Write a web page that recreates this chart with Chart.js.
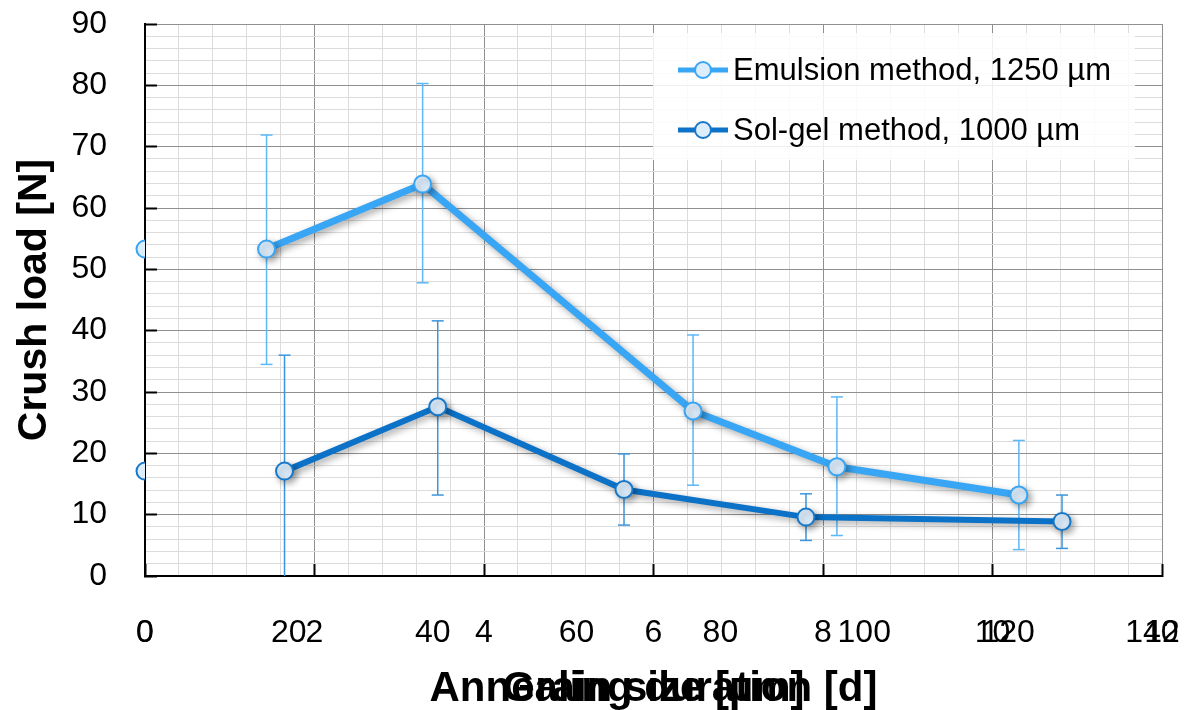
<!DOCTYPE html>
<html>
<head>
<meta charset="utf-8">
<script src="https://cdn.jsdelivr.net/npm/chart.js@4.4.1/dist/chart.umd.min.js"></script>
<style>
  html, body { margin: 0; padding: 0; background: #fff; }
  #wrap { position: relative; width: 1185px; height: 710px; }
  #legend {
    position: absolute; left: 653px; top: 33px; width: 482px; height: 127px;
    background: rgba(255, 255, 255, 0.86);
    font-family: "Liberation Sans", Arial, sans-serif; font-size: 31px; color: #000;
  }
  .item { position: absolute; left: 25px; height: 40px; display: flex; align-items: center; white-space: nowrap; }
  .item svg { margin-right: 5px; }
</style>
</head>
<body>
<div id="wrap">
  <canvas id="chart" width="1185" height="710"></canvas>
  <div id="legend"></div>
</div>
<script>
const grainTicks = [0, 2, 4, 6, 8, 10, 12];
const dayTicks = [0, 20, 40, 60, 80, 100, 120, 140];
const loadTicks = [0, 10, 20, 30, 40, 50, 60, 70, 80, 90];
const seriesNames = ['Emulsion method, 1250 µm', 'Sol-gel method, 1000 µm'];

const emulsionDays = [16.9, 38.6, 76.2, 96.2, 121.5];
const emulsionLoad = [53.3, 63.9, 26.9, 17.8, 13.2];
const emulsionHigh = [71.9, 80.3, 39.3, 29.2, 22.1];
const emulsionLow = [34.5, 47.8, 14.8, 6.6, 4.3];

const solgelDays = [19.4, 40.7, 66.6, 91.9, 127.5];
const solgelLoad = [17.1, 27.6, 14.1, 9.6, 8.9];
const solgelHigh = [36.0, 41.6, 19.9, 13.4, 13.2];
const solgelLow = [-1.8, 13.2, 8.3, 5.8, 4.5];

// the two stray markers that sit half outside the y axis
const strayDays = [0, 0];
const strayLoad = [53.3, 17.1];

const lightBlue = '#38a6f4';
const darkBlue = '#0b72c8';
const markerFill = '#dcedfc';

const points = (xs, ys) => xs.map((x, i) => ({ x, y: ys[i] }));
const whiskers = (xs, lo, hi) => xs.flatMap((x, i) => [{ x, y: lo[i] }, { x, y: hi[i] }, { x, y: null }]);
const near = (v, list) => list.some(t => Math.abs(t - v) < 1e-6);

const tickFont = { family: 'Liberation Sans', size: 32 };
const titleFont = { family: 'Liberation Sans', size: 42, weight: 'bold', lineHeight: 1 };

// tick padding would otherwise leak into the layout padding
const fixBox = (s, w, h) => {
  if (w) s.width = w;
  if (h) s.height = h;
  s.paddingTop = 0; s.paddingBottom = 0; s.paddingLeft = 0; s.paddingRight = 0;
};

const shadowPlugin = {
  id: 'lineShadow',
  beforeDatasetDraw(chart, args) {
    if (!chart.data.datasets[args.index].shadow) return;
    const ctx = chart.ctx;
    ctx.save();
    ctx.shadowColor = 'rgba(0,0,0,0.35)';
    ctx.shadowBlur = 7;
    ctx.shadowOffsetX = 3;
    ctx.shadowOffsetY = 3;
  },
  afterDatasetDraw(chart, args) {
    if (chart.data.datasets[args.index].shadow) chart.ctx.restore();
  }
};

new Chart(document.getElementById('chart'), {
  type: 'scatter',
  data: {
    datasets: [
      {
        label: seriesNames[0],
        data: points(emulsionDays, emulsionLoad),
        xAxisID: 'x2',
        showLine: true,
        shadow: true,
        order: 1,
        borderColor: lightBlue,
        borderWidth: 7,
        pointRadius: 8.5,
        pointBorderWidth: 2,
        pointBackgroundColor: markerFill,
        pointBorderColor: lightBlue
      },
      {
        label: seriesNames[1],
        data: points(solgelDays, solgelLoad),
        xAxisID: 'x2',
        showLine: true,
        shadow: true,
        order: 1,
        borderColor: darkBlue,
        borderWidth: 6,
        pointRadius: 8.5,
        pointBorderWidth: 2,
        pointBackgroundColor: markerFill,
        pointBorderColor: '#1878c8'
      },
      {
        data: whiskers(emulsionDays, emulsionLow, emulsionHigh),
        xAxisID: 'x2',
        showLine: true,
        spanGaps: false,
        order: 3,
        clip: 0,
        borderColor: '#5db8f6',
        borderWidth: 1.5,
        pointStyle: 'line',
        pointRadius: 6,
        pointBorderWidth: 1.5,
        pointBorderColor: '#5db8f6'
      },
      {
        data: whiskers(solgelDays, solgelLow, solgelHigh),
        xAxisID: 'x2',
        showLine: true,
        spanGaps: false,
        order: 3,
        clip: 0,
        borderColor: '#3c95dc',
        borderWidth: 1.5,
        pointStyle: 'line',
        pointRadius: 6,
        pointBorderWidth: 1.5,
        pointBorderColor: '#3c95dc'
      },
      {
        data: points(strayDays, strayLoad),
        xAxisID: 'x2',
        showLine: false,
        order: 2,
        clip: { left: 20, top: 0, right: -1017, bottom: 0 },
        pointRadius: 8.5,
        pointBorderWidth: 2,
        pointBackgroundColor: markerFill,
        pointBorderColor: [lightBlue, '#1878c8']
      }
    ]
  },
  options: {
    responsive: false,
    animation: false,
    devicePixelRatio: 1,
    layout: { padding: { left: 0, right: 23, top: 24, bottom: 0 } },
    plugins: { legend: { display: false }, tooltip: { enabled: false } },
    scales: {
      x: {
        type: 'linear',
        position: 'bottom',
        min: 0,
        max: 12,
        ticks: {
          stepSize: 0.4,
          autoSkip: false,
          maxRotation: 0,
          padding: 50,
          color: '#000',
          font: tickFont,
          callback: v => near(v, grainTicks) ? String(Math.round(v)) : ''
        },
        grid: {
          color: c => near(c.tick.value, grainTicks) ? '#8f8f8f' : '#dcdcdc',
          lineWidth: 1,
          tickLength: -12,
          tickWidth: 2,
          tickColor: c => near(c.tick.value, grainTicks) ? '#000' : 'rgba(0,0,0,0)'
        },
        border: { color: '#000', width: 2 },
        title: { display: true, text: 'Grain size [µm]', color: '#000', font: titleFont, padding: 0 },
        afterFit: s => fixBox(s, 0, 134)
      },
      x2: {
        type: 'linear',
        position: { y: 0 },
        min: 0,
        max: 141.4,
        ticks: {
          stepSize: 20,
          includeBounds: false,
          autoSkip: false,
          maxRotation: 0,
          padding: 38,
          color: '#000',
          font: tickFont,
          callback: v => near(v, dayTicks) ? String(v) : ''
        },
        grid: { display: false, drawTicks: false },
        border: { display: false },
        title: { display: true, text: 'Annealing duration [d]', color: '#000', font: titleFont, padding: 0 },
        afterFit: s => fixBox(s, 0, 134)
      },
      y: {
        type: 'linear',
        min: 0,
        max: 90,
        ticks: {
          stepSize: 2,
          autoSkip: false,
          padding: 50,
          color: '#000',
          font: tickFont,
          callback: v => near(v, loadTicks) ? String(v) : ''
        },
        grid: {
          color: c => near(c.tick.value, loadTicks) ? '#8f8f8f' : '#dcdcdc',
          lineWidth: 1,
          tickLength: -12,
          tickWidth: 2,
          tickColor: c => near(c.tick.value, loadTicks) ? '#000' : 'rgba(0,0,0,0)'
        },
        border: { color: '#000', width: 2 },
        title: {
          display: true,
          text: 'Crush load [N]',
          color: '#000',
          font: { family: 'Liberation Sans', size: 41, weight: 'bold', lineHeight: 1 },
          padding: { top: 14, bottom: 0 }
        },
        afterFit: s => fixBox(s, 145, 0)
      }
    }
  },
  plugins: [shadowPlugin]
});

// legend: line + circle marker like the original
const legendColors = [[lightBlue, lightBlue], [darkBlue, '#1878c8']];
const legend = document.getElementById('legend');
seriesNames.forEach((name, i) => {
  const [line, ring] = legendColors[i];
  const row = document.createElement('div');
  row.className = 'item';
  row.style.top = (17 + i * 60) + 'px';
  row.innerHTML =
    '<svg width="50" height="24"><line x1="0" y1="12" x2="50" y2="12" stroke="' + line + '" stroke-width="5"/>' +
    '<circle cx="25" cy="12" r="8" fill="' + markerFill + '" stroke="' + ring + '" stroke-width="2"/></svg>' +
    '<span>' + name + '</span>';
  legend.appendChild(row);
});
</script>
</body>
</html>
